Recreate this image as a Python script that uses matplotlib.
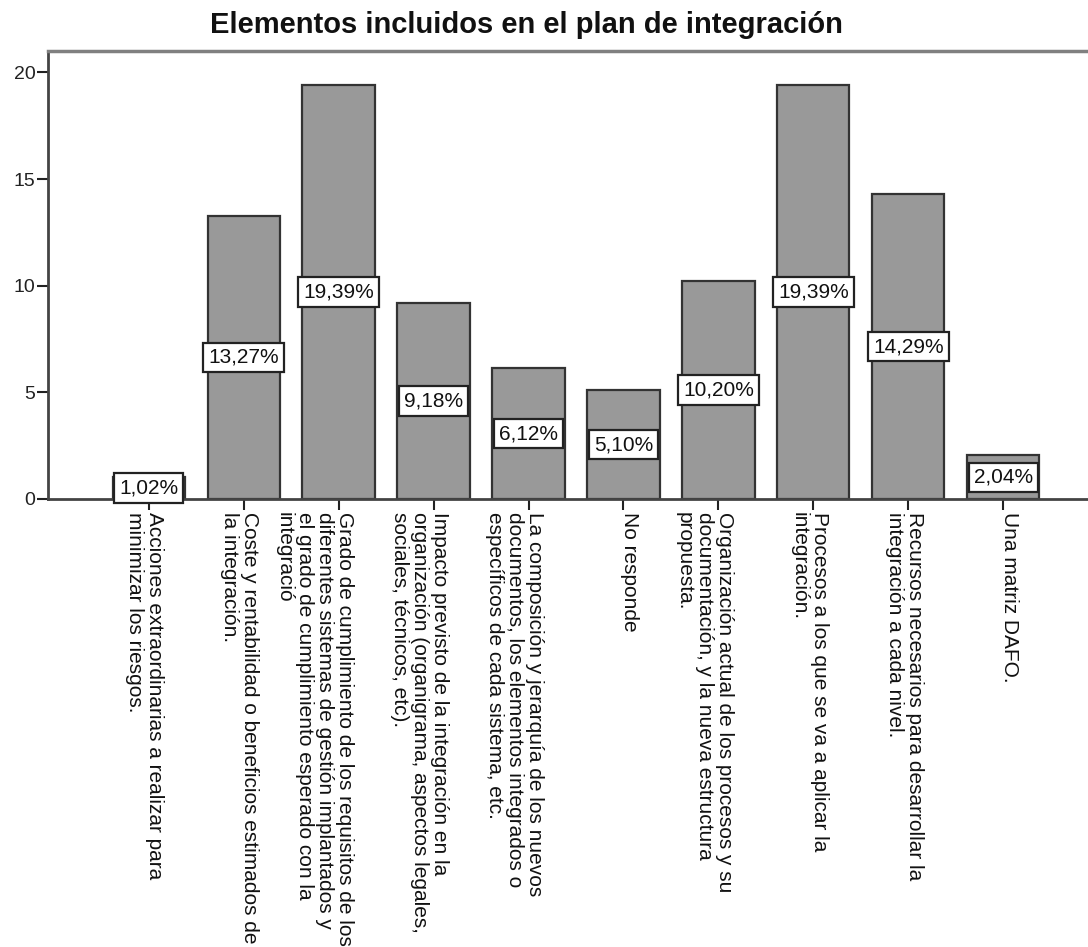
import matplotlib
matplotlib.use('Agg')
import matplotlib.pyplot as plt
import matplotlib.transforms as mtransforms
import numpy as np

plt.rcParams['font.family'] = ['Liberation Sans', 'DejaVu Sans']

categories = ['Acciones extraordinarias a realizar para\nminimizar los riesgos.',
              'Coste y rentabilidad o beneficios estimados de\nla integración.',
              'Grado de cumplimiento de los requisitos de los\ndiferentes sistemas de gestión implantados y\nel grado de cumplimiento esperado con la\nintegració',
              'Impacto previsto de la integración en la\norganización (organigrama, aspectos legales,\nsociales, técnicos, etc).',
              'La composición y jerarquía de los nuevos\ndocumentos, los elementos integrados o\nespecíficos de cada sistema, etc.',
              'No responde',
              'Organización actual de los procesos y su\ndocumentación, y la nueva estructura\npropuesta.',
              'Procesos a los que se va a aplicar la\nintegración.',
              'Recursos necesarios para desarrollar la\nintegración a cada nivel.',
              'Una matriz DAFO.']
percent = [1.02, 13.27, 19.39, 9.18, 6.12, 5.10, 10.20, 19.39, 14.29, 2.04]
yticks = [0, 5, 10, 15, 20]

fig = plt.figure(figsize=(10.88, 9.47), dpi=100)
ax = fig.add_axes([0.0441, 0.4731, 0.9706, 0.4730])

x = np.arange(len(categories))
ax.bar(x, percent, width=0.76, color='#999999', edgecolor='#333333', linewidth=1.6, zorder=2)

# etiquetas de porcentaje en el centro de cada barra
for xi, v in zip(x, percent):
    ax.text(xi, v / 2, ('%.2f%%' % v).replace('.', ','), ha='center', va='center',
            fontsize=15, color='#111111', zorder=4,
            bbox=dict(boxstyle='square,pad=0.25', facecolor='white', edgecolor='#222222', linewidth=1.6))

ax.set_xlim(-1.06, 10.06)
ax.set_ylim(0, 21.0)
ax.set_yticks(yticks)
ax.set_yticklabels([str(t) for t in yticks])
ax.set_xticks(x)
ax.set_xticklabels([''] * len(x))

for s in ['left', 'bottom']:
    ax.spines[s].set_color('#444444')
    ax.spines[s].set_linewidth(2)
ax.spines['top'].set_color('#808080')
ax.spines['top'].set_linewidth(2.5)
ax.spines['right'].set_visible(False)

ax.tick_params(axis='y', direction='out', length=8, width=1.5, color='#222222',
               labelsize=14, labelcolor='#222222', pad=1)
ax.tick_params(axis='x', direction='out', length=8, width=1.5, color='#222222')

# etiquetas verticales: la primera linea queda a la derecha de la marca
fs = 15
shift = mtransforms.ScaledTranslation(0.74 * fs / 72, -0.13, fig.dpi_scale_trans)
trans = ax.get_xaxis_transform() + shift
for xi, lab in zip(x, categories):
    ax.text(xi, 0, lab, transform=trans, rotation=-90, rotation_mode='anchor',
            ha='left', va='top', fontsize=fs, color='#111111', linespacing=1.08,
            clip_on=False)

fig.text(526 / 1088, 1 - 33 / 947, 'Elementos incluidos en el plan de integración',
         ha='center', va='baseline', fontsize=21, fontweight='bold', color='#111111')

fig.savefig('out.png', dpi=100)
